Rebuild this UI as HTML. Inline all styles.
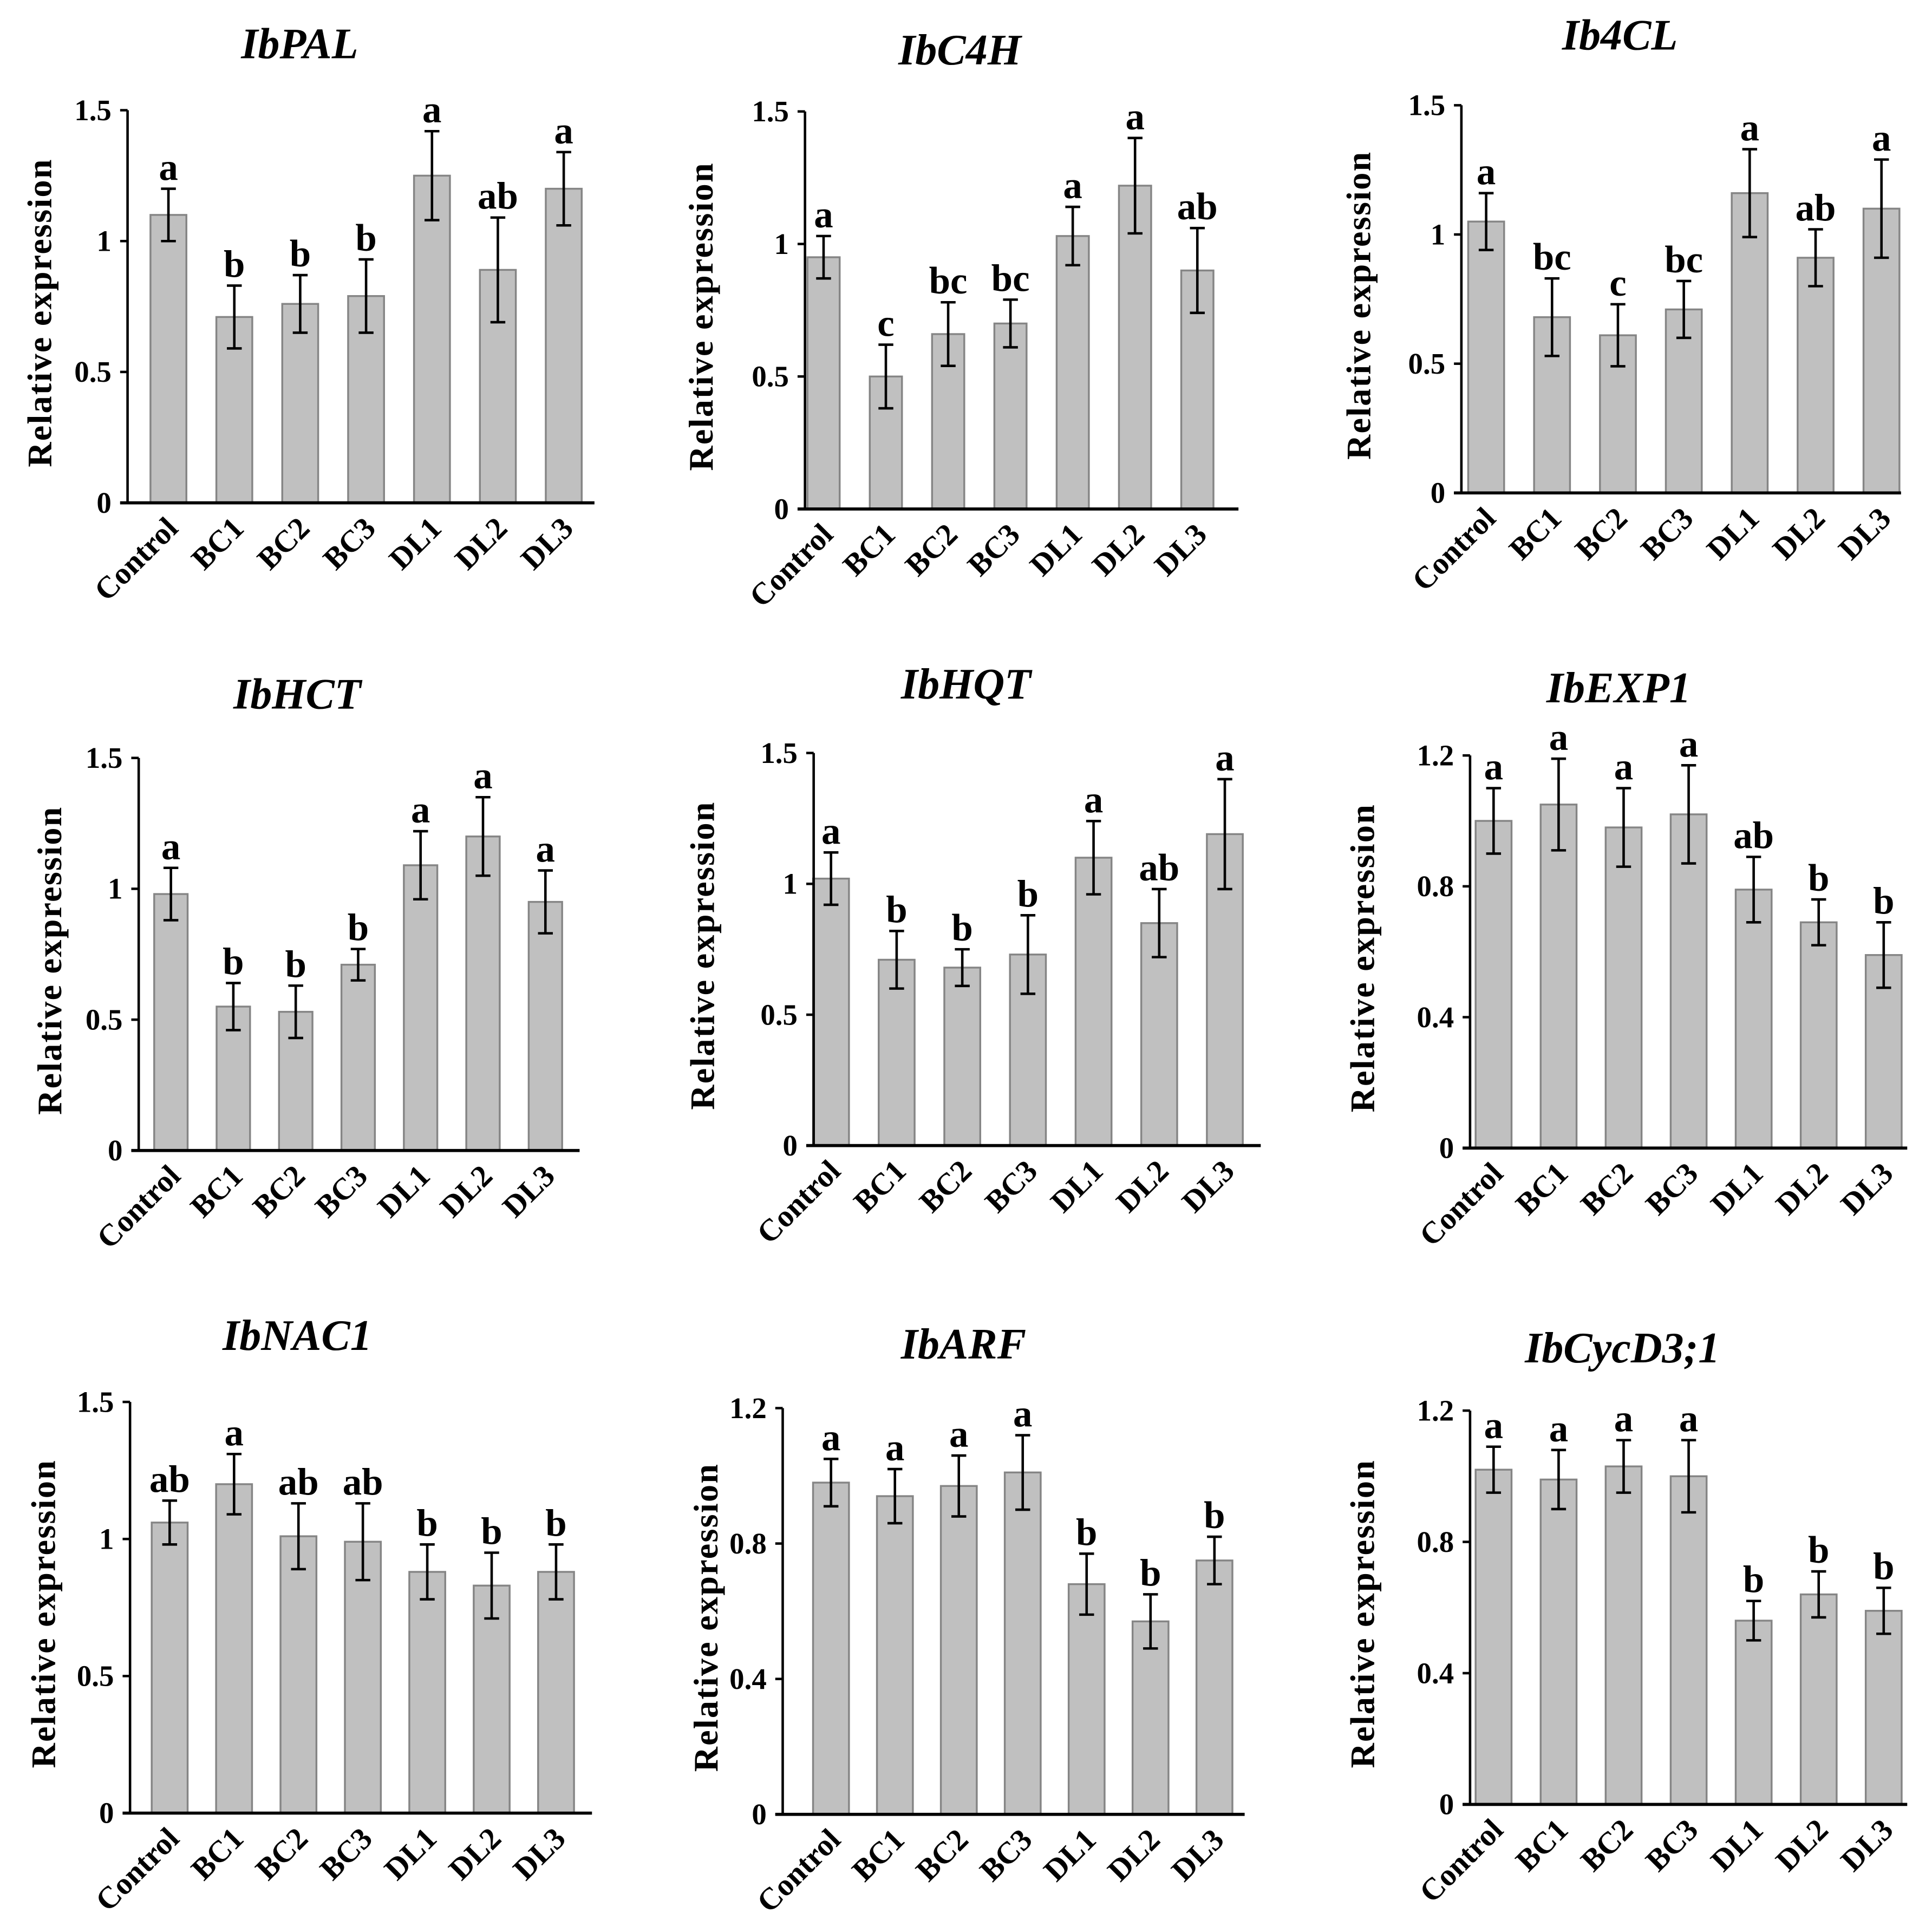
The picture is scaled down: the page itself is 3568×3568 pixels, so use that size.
<!DOCTYPE html>
<html><head><meta charset="utf-8"><style>html,body{margin:0;padding:0;background:#fff}svg{display:block}</style></head>
<body>
<svg id="fig" xmlns="http://www.w3.org/2000/svg" width="3568" height="3568" viewBox="0 0 1560 1560" font-family="'Liberation Serif', serif"></svg>
<script>
const categories = ["Control","BC1","BC2","BC3","DL1","DL2","DL3"];
const titles = ["IbPAL","IbC4H","Ib4CL","IbHCT","IbHQT","IbEXP1","IbNAC1","IbARF","IbCycD3;1"];
const valsPAL = [1.1,0.71,0.76,0.79,1.25,0.89,1.2];
const errPAL = [0.1,0.12,0.11,0.14,0.17,0.2,0.14];
const letPAL = ["a","b","b","b","a","ab","a"];
const valsC4H = [0.95,0.5,0.66,0.7,1.03,1.22,0.9];
const errC4H = [0.08,0.12,0.12,0.09,0.11,0.18,0.16];
const letC4H = ["a","c","bc","bc","a","a","ab"];
const vals4CL = [1.05,0.68,0.61,0.71,1.16,0.91,1.1];
const err4CL = [0.11,0.15,0.12,0.11,0.17,0.11,0.19];
const let4CL = ["a","bc","c","bc","a","ab","a"];
const valsHCT = [0.98,0.55,0.53,0.71,1.09,1.2,0.95];
const errHCT = [0.1,0.09,0.1,0.06,0.13,0.15,0.12];
const letHCT = ["a","b","b","b","a","a","a"];
const valsHQT = [1.02,0.71,0.68,0.73,1.1,0.85,1.19];
const errHQT = [0.1,0.11,0.07,0.15,0.14,0.13,0.21];
const letHQT = ["a","b","b","b","a","ab","a"];
const valsEXP = [1.0,1.05,0.98,1.02,0.79,0.69,0.59];
const errEXP = [0.1,0.14,0.12,0.15,0.1,0.07,0.1];
const letEXP = ["a","a","a","a","ab","b","b"];
const valsNAC = [1.06,1.2,1.01,0.99,0.88,0.83,0.88];
const errNAC = [0.08,0.11,0.12,0.14,0.1,0.12,0.1];
const letNAC = ["ab","a","ab","ab","b","b","b"];
const valsARF = [0.98,0.94,0.97,1.01,0.68,0.57,0.75];
const errARF = [0.07,0.08,0.09,0.11,0.09,0.08,0.07];
const letARF = ["a","a","a","a","b","b","b"];
const valsCyc = [1.02,0.99,1.03,1.0,0.56,0.64,0.59];
const errCyc = [0.07,0.09,0.08,0.11,0.06,0.07,0.07];
const letCyc = ["a","a","a","a","b","b","b"];
const ticksA = [0,0.5,1,1.5];
const tickLabelsA = ["0","0.5","1","1.5"];
const ticksB = [0,0.4,0.8,1.2];
const tickLabelsB = ["0","0.4","0.8","1.2"];

const layout = [
 {ax:103,y0:406,yt:89,xe:480,c0:136,sp:53.2,bw:29,tx:242,ty:45,yl:32},
 {ax:650,y0:411,yt:90,xe:1000,c0:665,sp:50.3,bw:26,tx:775,ty:50,yl:566},
 {ax:1180,y0:398,yt:85,xe:1535,c0:1200,sp:53.2,bw:29,tx:1308,ty:38,yl:1097},
 {ax:112,y0:929,yt:612,xe:468,c0:138,sp:50.4,bw:27,tx:240,ty:570,yl:40},
 {ax:657,y0:925,yt:608,xe:1018,c0:671,sp:53,bw:29,tx:780,ty:562,yl:567},
 {ax:1187,y0:927,yt:610,xe:1540,c0:1206,sp:52.5,bw:29,tx:1307,ty:565,yl:1100},
 {ax:105,y0:1464,yt:1132,xe:478,c0:137,sp:52,bw:29,tx:240,ty:1088,yl:35},
 {ax:632,y0:1465,yt:1137,xe:1005,c0:671,sp:51.6,bw:29,tx:778,ty:1095,yl:570},
 {ax:1187,y0:1457,yt:1139,xe:1540,c0:1206,sp:52.5,bw:29,tx:1310,ty:1098,yl:1100}
];
const series = [[valsPAL,errPAL,letPAL,ticksA,tickLabelsA],[valsC4H,errC4H,letC4H,ticksA,tickLabelsA],[vals4CL,err4CL,let4CL,ticksA,tickLabelsA],
 [valsHCT,errHCT,letHCT,ticksA,tickLabelsA],[valsHQT,errHQT,letHQT,ticksA,tickLabelsA],[valsEXP,errEXP,letEXP,ticksB,tickLabelsB],
 [valsNAC,errNAC,letNAC,ticksA,tickLabelsA],[valsARF,errARF,letARF,ticksB,tickLabelsB],[valsCyc,errCyc,letCyc,ticksB,tickLabelsB]];

const svg = document.getElementById('fig');
const NS = 'http://www.w3.org/2000/svg';
function mk(tag, attrs, parent, text){
  const e = document.createElementNS(NS, tag);
  for (const k in attrs) e.setAttribute(k, attrs[k]);
  if (text !== undefined) e.textContent = text;
  parent.appendChild(e); return e;
}
layout.forEach((L, p) => {
  const [vals, errs, lets, ticks, tlabels] = series[p];
  const maxT = ticks[ticks.length-1];
  const y = v => L.y0 - (v / maxT) * (L.y0 - L.yt);
  const x = i => L.c0 + i * L.sp;
  const g = mk('g', {}, svg);
  
  
  const t = mk('text', {x:L.tx, y:L.ty+2, 'text-anchor':'middle', 'font-size':35, 'font-weight':'bold', 'font-style':'italic'}, g, titles[p]);
  
  
  const ym = (L.y0 + L.yt) / 2 + 5;
  const yt = mk('text', {x:L.yl, y:ym, transform:`rotate(-90 ${L.yl} ${ym})`, 'text-anchor':'middle', 'dominant-baseline':'central', 'font-size':28, 'font-weight':'bold', 'letter-spacing':1}, g, 'Relative expression');
  
  
  vals.forEach((v, i) => {
    const r = mk('rect', {x:x(i)-L.bw/2, y:y(v), width:L.bw, height:L.y0-y(v), fill:'#c0c0c0', stroke:'#858585', 'stroke-width':1.5}, g);
    
    
    const top = y(v + errs[i]), bot = y(v - errs[i]);
    const eb = mk('path', {d:`M${x(i)} ${top}V${bot}M${x(i)-6} ${top}H${x(i)+6}M${x(i)-6} ${bot}H${x(i)+6}`, stroke:'#000', 'stroke-width':2, fill:'none'}, g);
    
    
    const lt = mk('text', {x:x(i), y:top-7, 'text-anchor':'middle', 'font-size':31, 'font-weight':'bold'}, g, lets[i]);
    
    
    const lx = x(i) + 9, ly = L.y0 + 22;
    const xl = mk('text', {x:lx, y:ly, transform:`rotate(-45 ${lx} ${ly})`, 'text-anchor':'end', 'font-size':25, 'font-weight':'bold'}, g, categories[i]);
    
    
  });
  ticks.forEach((tv, k) => {
    const tk = mk('line', {x1:L.ax-6, x2:L.ax, y1:y(tv), y2:y(tv), stroke:'#000', 'stroke-width':2}, g);
    
    
    const tl = mk('text', {x:L.ax-13, y:y(tv)+8, 'text-anchor':'end', 'font-size':24, 'font-weight':'bold'}, g, tlabels[k]);
    
    
  });
  const ya = mk('line', {x1:L.ax, x2:L.ax, y1:L.yt, y2:L.y0, stroke:'#000', 'stroke-width':2}, g);
  
  
  const xa = mk('line', {x1:L.ax-6, x2:L.xe, y1:L.y0, y2:L.y0, stroke:'#000', 'stroke-width':2.5}, g);
  
  
});
</script>
</body></html>
